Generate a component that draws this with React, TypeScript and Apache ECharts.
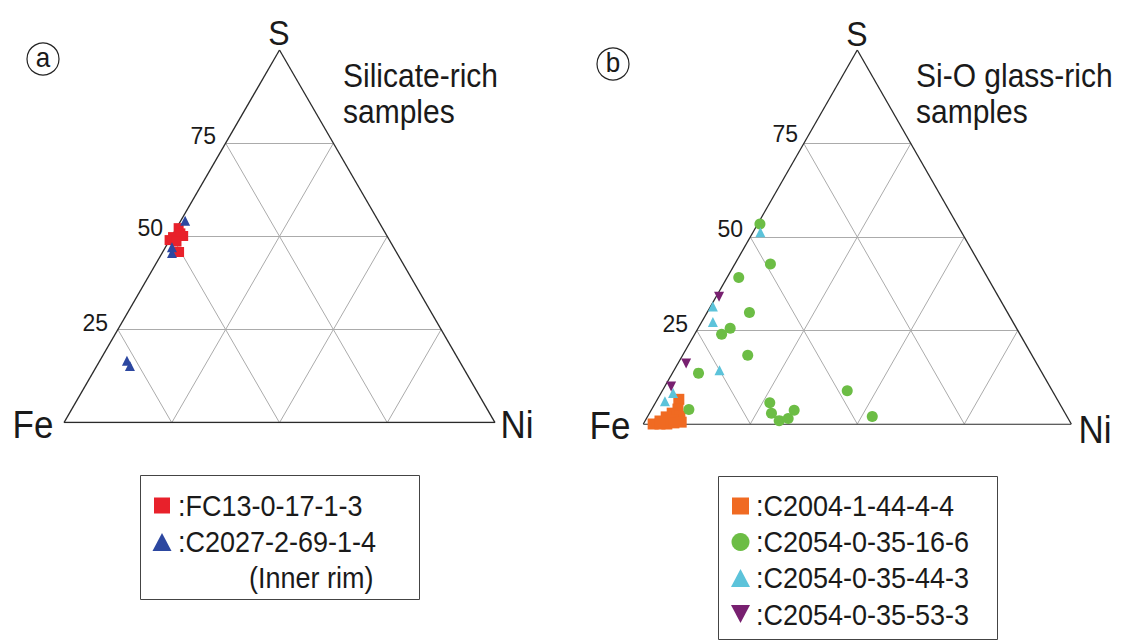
import React, { useEffect, useRef } from "react";
import * as echarts from "echarts";

// Ternary data: each point is [S %, Ni %]; Fe = 100 - S - Ni
const fc13_0_17_1_3: number[][] = [
  [52.2, 0.5], [50.1, 2.6], [49.8, 0.4], [49.0, 0.0], [50.8, 1.6], [48.6, 1.8], [45.8, 3.8],
];
const c2027_2_69_1_4: number[][] = [
  [54.2, 1.0], [47.1, 1.5], [45.5, 2.3], [16.6, 6.3], [15.2, 7.7],
];
const c2004_1_44_4_4: number[][] = [
  [6.6, 5.0], [4.0, 6.1], [2.9, 5.3], [2.1, 7.5], [1.9, 4.4], [1.1, 6.4],
  [0.8, 3.5], [0.0, 5.5], [0.0, 2.3], [0.0, 3.9], [0.3, 7.0], [0.5, 8.6], [-0.6, 1.6],
];
const c2054_0_35_16_6: number[][] = [
  [53.5, 0.5], [42.8, 8.3], [39.2, 2.7], [29.8, 9.9], [25.6, 7.5], [24.0, 6.3],
  [18.4, 15.2], [13.6, 6.1], [3.9, 8.7], [8.9, 43.2], [5.7, 26.7], [2.9, 28.5],
  [0.9, 31.3], [1.5, 33.1], [3.7, 33.4], [2.0, 52.5],
];
const c2054_0_35_44_3: number[][] = [
  [51.3, 1.7], [31.4, 0.55], [27.3, 2.6], [14.4, 10.6], [6.1, 2.0], [8.3, 2.8],
];
const c2054_0_35_53_3: number[][] = [
  [34.0, 0.7], [16.2, 1.9], [10.0, 1.5],
];
const gridLevels: number[] = [25, 50, 75];
const tickLabels: string[] = ["25", "50", "75"];
const legendA: string[] = [":FC13-0-17-1-3", ":C2027-2-69-1-4", "(Inner rim)"];
const legendB: string[] = [":C2004-1-44-4-4", ":C2054-0-35-16-6", ":C2054-0-35-44-3", ":C2054-0-35-53-3"];

const FONT = "'Liberation Sans', Arial, Helvetica, sans-serif";

const toXY = (s: number, ni: number) => [ni + s / 2, s];
const conv = (arr: number[][]) => arr.map(([s, ni]) => toXY(s, ni));

function gridSegments() {
  const segs: number[][][] = [];
  for (const k of gridLevels) {
    segs.push([toXY(k, 0), toXY(k, 100 - k)]); // S = k
    segs.push([toXY(0, k), toXY(100 - k, k)]); // Ni = k
    segs.push([toXY(0, 100 - k), toXY(100 - k, 0)]); // Fe = k
  }
  return segs;
}
const outline = [
  [toXY(0, 0), toXY(0, 100)],
  [toXY(0, 100), toXY(100, 0)],
  [toXY(100, 0), toXY(0, 0)],
];

const COLORS = {
  red: "#e8212b",
  blue: "#2c47a0",
  orange: "#f06a22",
  green: "#6cbd45",
  cyan: "#5cc3da",
  purple: "#782070",
};

export default function App() {
  const ref = useRef<HTMLDivElement>(null);
  useEffect(() => {
    if (!ref.current) return;
    const chart = echarts.init(ref.current, null, { renderer: "svg" });
    const G = [
      { left: 64, top: 50, width: 431, height: 372.7 },
      { left: 643.3, top: 50, width: 428, height: 374 },
    ];
    const linesSeries = (gi: number, segs: number[][][], color: string, width: number) => ({
      type: "lines",
      coordinateSystem: "cartesian2d",
      xAxisIndex: gi,
      yAxisIndex: gi,
      silent: true,
      z: 1,
      lineStyle: { color, width, opacity: 1, type: "solid" },
      data: segs.map((c) => ({ coords: c })),
    });
    const scatter = (gi: number, name: string, data: number[][], symbol: string, color: string, size: number, rotate = 0) => ({
      type: "scatter",
      name,
      xAxisIndex: gi,
      yAxisIndex: gi,
      symbol,
      symbolRotate: rotate,
      symbolSize: size,
      itemStyle: { color, opacity: 1 },
      z: 5,
      data: conv(data),
    });
    const text = (t: string, x: number, y: number, size: number, align = "left", sy = 1.08) => ({
      type: "text",
      x,
      y,
      scaleY: sy,
      style: { text: t, fill: "#1a1a1a", font: `${size}px ${FONT}`, textAlign: align, textVerticalAlign: "middle" },
    });
    const tickPos = [
      [[108, 322.5], [163, 227], [216, 135]],
      [[688, 322.7], [743, 228], [798, 133]],
    ];
    const graphic: any[] = [];
    // vertex labels
    graphic.push(text("S", 279, 32, 32, "center", 1.12), text("Fe", 33, 424, 35, "center", 1.12), text("Ni", 517, 424, 35, "center", 1.12));
    graphic.push(text("S", 857, 33, 32, "center", 1.12), text("Fe", 610, 425, 35, "center", 1.12), text("Ni", 1095, 429, 35, "center", 1.12));
    // tick labels
    tickPos.forEach((tp) => tp.forEach((p, i) => graphic.push(text(tickLabels[i], p[0], p[1], 23, "right"))));
    // titles
    graphic.push(text("Silicate-rich", 343, 76, 30), text("samples", 343, 112, 30));
    graphic.push(text("Si-O glass-rich", 916, 76, 30), text("samples", 916, 112, 30));
    // panel letters
    graphic.push({ type: "circle", shape: { cx: 43, cy: 59, r: 16 }, style: { fill: "none", stroke: "#222", lineWidth: 1.2 } });
    graphic.push(text("a", 43, 58, 26, "center"));
    graphic.push({ type: "circle", shape: { cx: 613, cy: 64, r: 16 }, style: { fill: "none", stroke: "#222", lineWidth: 1.2 } });
    graphic.push(text("b", 613, 63, 26, "center"));
    // legend boxes
    graphic.push({ type: "rect", shape: { x: 140.5, y: 475.5, width: 279, height: 124 }, style: { fill: "none", stroke: "#444", lineWidth: 1 } });
    graphic.push({ type: "rect", shape: { x: 718.5, y: 476.5, width: 279, height: 163 }, style: { fill: "none", stroke: "#444", lineWidth: 1 } });
    // legend A
    graphic.push({ type: "rect", shape: { x: 154, y: 497.5, width: 16, height: 16 }, style: { fill: COLORS.red } });
    graphic.push({ type: "polygon", shape: { points: [[162, 533], [171.5, 551], [152.5, 551]] }, style: { fill: COLORS.blue } });
    graphic.push(text(legendA[0], 178, 506, 27), text(legendA[1], 178, 542, 27), text(legendA[2], 249, 578, 27));
    // legend B
    graphic.push({ type: "rect", shape: { x: 732, y: 497.5, width: 17, height: 17 }, style: { fill: COLORS.orange } });
    graphic.push({ type: "circle", shape: { cx: 740.5, cy: 542, r: 9 }, style: { fill: COLORS.green } });
    graphic.push({ type: "polygon", shape: { points: [[740.5, 569], [750, 587], [731, 587]] }, style: { fill: COLORS.cyan } });
    graphic.push({ type: "polygon", shape: { points: [[731, 605], [750, 605], [740.5, 623]] }, style: { fill: COLORS.purple } });
    legendB.forEach((t, i) => graphic.push(text(t, 756, 506 + i * 36.3, 27)));

    chart.setOption({
      animation: false,
      backgroundColor: "#ffffff",
      grid: G,
      xAxis: G.map((_, i) => ({ type: "value", gridIndex: i, min: 0, max: 100, show: false })),
      yAxis: G.map((_, i) => ({ type: "value", gridIndex: i, min: 0, max: 100, show: false })),
      series: [
        linesSeries(0, gridSegments(), "#ababab", 1),
        linesSeries(0, outline, "#2a2a2a", 1.3),
        linesSeries(1, gridSegments(), "#ababab", 1),
        linesSeries(1, outline, "#2a2a2a", 1.3),
        scatter(0, "FC13-0-17-1-3", fc13_0_17_1_3, "rect", COLORS.red, 10),
        scatter(0, "C2027-2-69-1-4", c2027_2_69_1_4, "triangle", COLORS.blue, 10),
        scatter(1, "C2004-1-44-4-4", c2004_1_44_4_4, "rect", COLORS.orange, 11),
        scatter(1, "C2054-0-35-16-6", c2054_0_35_16_6, "circle", COLORS.green, 11),
        scatter(1, "C2054-0-35-44-3", c2054_0_35_44_3, "triangle", COLORS.cyan, 10),
        scatter(1, "C2054-0-35-53-3", c2054_0_35_53_3, "triangle", COLORS.purple, 10, 180),
      ],
      graphic,
    });
    return () => chart.dispose();
  }, []);
  return (
    <div
      ref={ref}
      style={{ position: "absolute", left: 0, top: 0, width: 1124, height: 643, background: "#fff" }}
    />
  );
}
